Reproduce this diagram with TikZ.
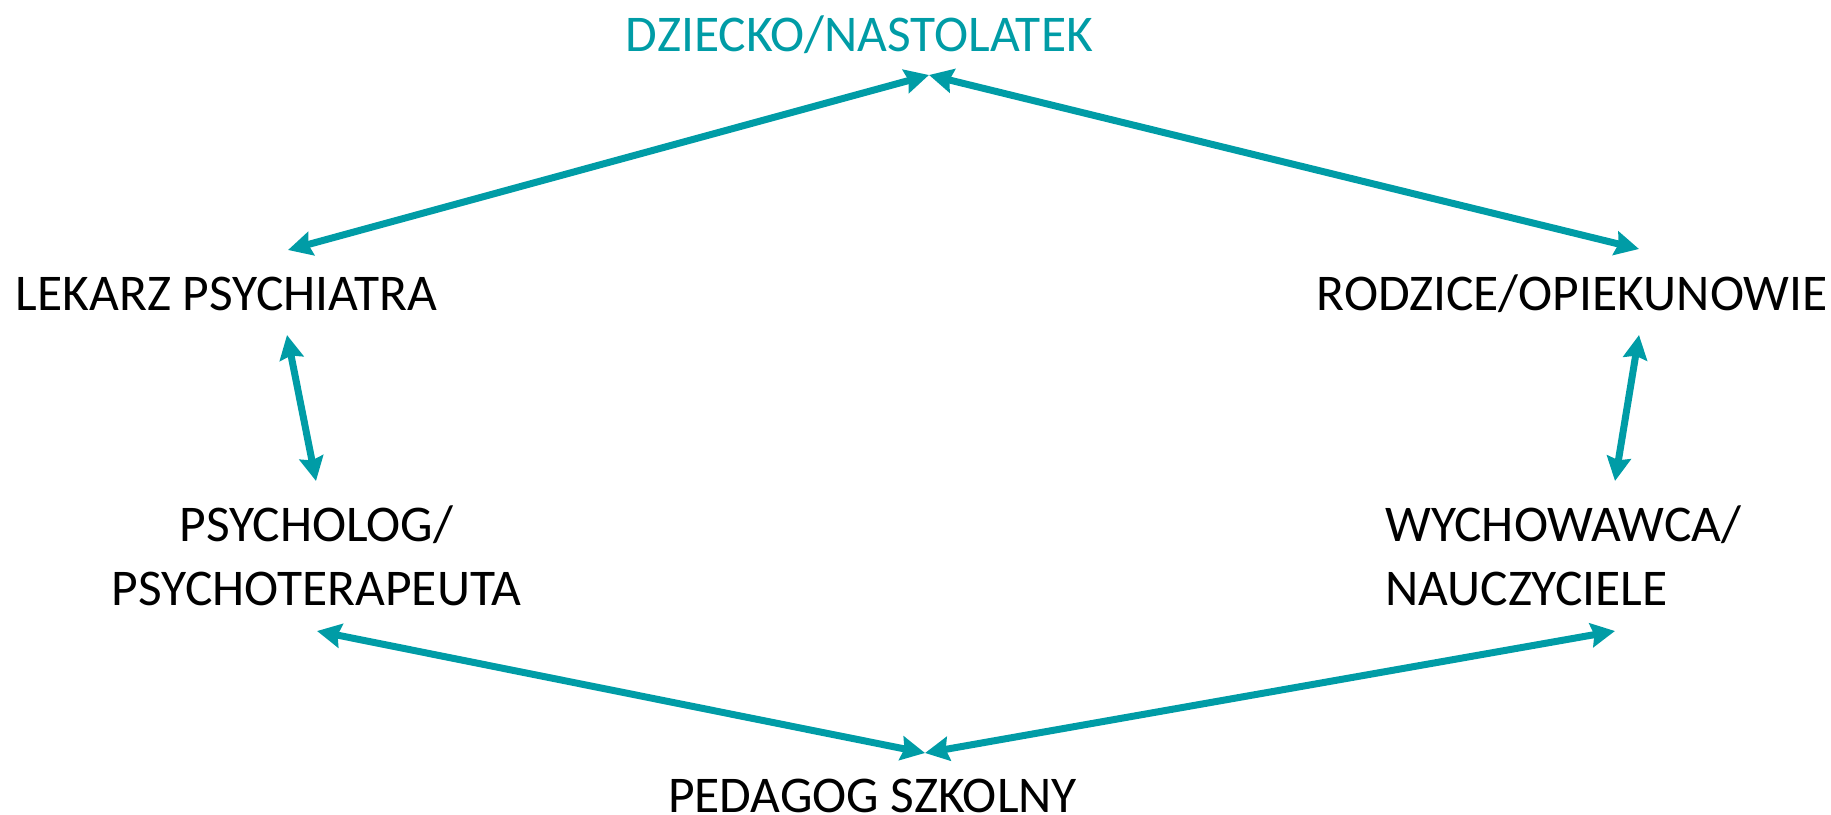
\documentclass[tikz,border=0pt]{standalone}
\usepackage{fontspec}
\setmainfont{Carlito}
\usetikzlibrary{arrows.meta}
\usetikzlibrary{calc}
\definecolor{tealc}{HTML}{009CA6}
\tikzset{
    mynode/.style = {inner sep=0pt, anchor=base, font=\fontsize{51.5}{64}\selectfont, text=black},
    mynodet/.style = {mynode, text=tealc},
    edgen/.style = {{Stealth[length=24pt,width=24pt,inset=3pt]}-{Stealth[length=24pt,width=24pt,inset=3pt]}, line width=7pt, tealc}
}

\begin{document}
\begin{tikzpicture}[x=1pt, y=-1pt]
\useasboundingbox (0,0) rectangle (1831,814);
\node[mynodet] at (859.5,51) (dz) {DZIECKO/NASTOLATEK};
\node[mynode] at (226.5,310) (lek) {LEKARZ PSYCHIATRA};
\node[mynode] at (1572,310) (rodz) {RODZICE/OPIEKUNOWIE};
\node[mynode, align=center] at (316.5,605) (psy) {PSYCHOLOG/\\PSYCHOTERAPEUTA};
\node[mynode, align=left, anchor=base west] at (1385,605) (wych) {WYCHOWAWCA/\\NAUCZYCIELE};
\node[mynode] at (872.5,812) (ped) {PEDAGOG SZKOLNY};
% top
\draw[edgen] ($(dz.base)+(69.5,24)$) -- ($(lek.base)+(61.5,-60)$);
\draw[edgen] ($(dz.base)+(69.5,24)$) -- ($(rodz.base)+(67,-61)$);
% sides
\draw[edgen] ($(lek.base)+(60.5,25)$) -- ($(psy.base)+(-0.5,-124)$);
\draw[edgen] ($(rodz.base)+(67,25)$) -- ($(wych.base west)+(230,-124)$);
% bottom
\draw[edgen] ($(psy.base)+(0.5,26)$) -- ($(ped.base)+(52.5,-59)$);
\draw[edgen] ($(wych.base west)+(230,26)$) -- ($(ped.base)+(52.5,-59)$);
\end{tikzpicture}
\end{document}
